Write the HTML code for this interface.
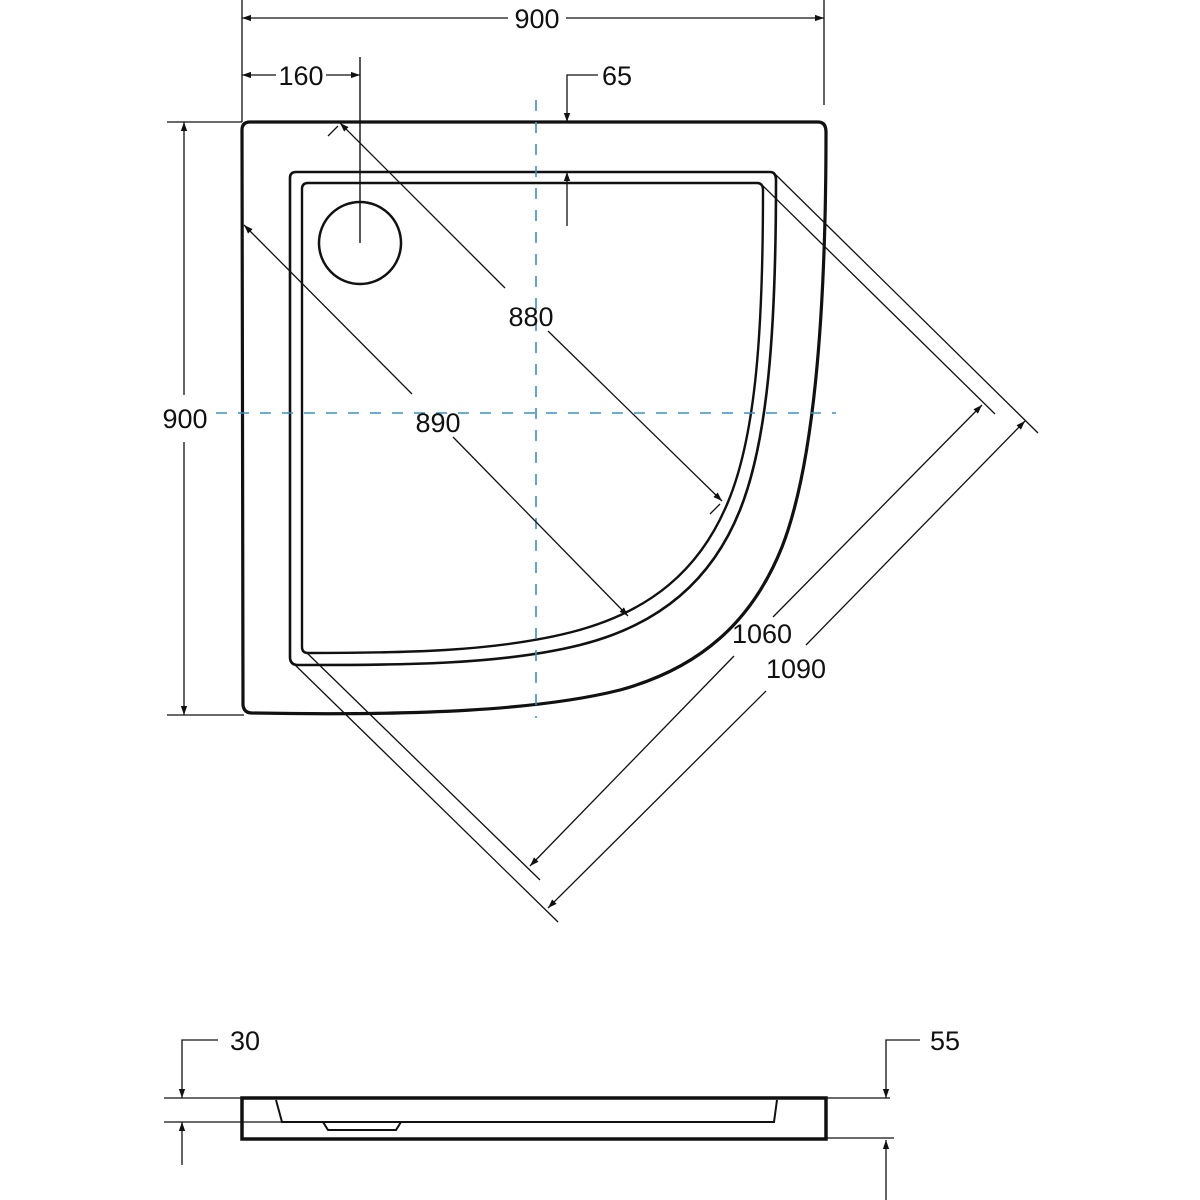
<!DOCTYPE html>
<html><head><meta charset="utf-8"><style>
html,body{margin:0;padding:0;background:#fff}
svg{display:block}
text{font-family:"Liberation Sans",Arial,sans-serif;font-size:27px;fill:#111}
</style></head><body>
<svg width="1200" height="1200" viewBox="0 0 1200 1200" xmlns="http://www.w3.org/2000/svg">
<defs>
<marker id="a" viewBox="0 0 10 10" refX="10" refY="5" markerWidth="9" markerHeight="9" orient="auto-start-reverse" markerUnits="userSpaceOnUse"><path d="M0,1.5 L10,5 L0,8.5 Z" fill="#111"/></marker>
</defs>
<g fill="none" stroke="#111">
<path d="M242,130 Q242,122 250,122 L818,122 Q826,122 826,132 C826,330 812,470 782,547 C752,622 700,668 620,690 C540,710 420,716 252,713 Q244,713 243,705 Z" stroke-width="3.2"/>
<path d="M290,178 Q290,172 296,172 L770,172 Q776,172 776,180 C776,330 768,440 740,510 C712,580 660,625 580,645 C500,665 400,665 298,665 Q290,665 290,657 Z" stroke-width="2.6"/>
<path d="M302,189 Q302,183 308,183 L757,183 Q763,183 763,190 C763,330 756,435 728,502 C700,570 650,612 572,632 C494,652 400,653 308,653 Q302,653 302,647 Z" stroke-width="2.4"/>
<circle cx="360" cy="243" r="41" stroke-width="2.5"/>
<line x1="360" y1="57" x2="360" y2="243" stroke-width="1.4"/>
</g>
<g stroke="#3a90c4" stroke-width="1.6" stroke-dasharray="11,11">
<line x1="536" y1="100" x2="536" y2="718"/>
<line x1="216" y1="413" x2="836" y2="413"/>
</g>
<g stroke="#111" stroke-width="1.3" fill="none">
<line x1="242" y1="0" x2="242" y2="122"/>
<line x1="824" y1="0" x2="824" y2="105"/>
<line x1="242" y1="18" x2="508" y2="18" marker-start="url(#a)"/>
<line x1="566" y1="18" x2="824" y2="18" marker-end="url(#a)"/>
<line x1="242" y1="75" x2="276" y2="75" marker-start="url(#a)"/>
<line x1="326" y1="75" x2="360" y2="75" marker-end="url(#a)"/>
<polyline points="598,75 567,75 567,122" marker-end="url(#a)"/>
<line x1="567" y1="226" x2="567" y2="172" marker-end="url(#a)"/>
<line x1="167" y1="122" x2="242" y2="122"/>
<line x1="167" y1="715" x2="244" y2="715"/>
<line x1="184" y1="395" x2="184" y2="122" marker-end="url(#a)"/>
<line x1="184" y1="442" x2="184" y2="715" marker-end="url(#a)"/>
<line x1="505" y1="288" x2="340" y2="123" marker-end="url(#a)"/>
<line x1="548" y1="331" x2="722" y2="501" marker-end="url(#a)"/>
<line x1="328" y1="136" x2="338" y2="126"/>
<line x1="710" y1="514" x2="720" y2="504"/>
<line x1="412" y1="394" x2="244" y2="225" marker-end="url(#a)"/>
<line x1="453" y1="437" x2="628" y2="616" marker-end="url(#a)"/>
<line x1="776" y1="175" x2="1038" y2="433"/>
<line x1="762" y1="185" x2="995" y2="414"/>
<line x1="290" y1="660" x2="558" y2="922"/>
<line x1="306" y1="652" x2="540" y2="880"/>
<line x1="734" y1="656" x2="530" y2="866" marker-end="url(#a)"/>
<line x1="773" y1="617" x2="982" y2="405" marker-end="url(#a)"/>
<line x1="766" y1="691" x2="548" y2="908" marker-end="url(#a)"/>
<line x1="806" y1="645" x2="1025" y2="421" marker-end="url(#a)"/>
</g>
<g fill="none" stroke="#111">
<rect x="242" y="1098" width="584" height="41" stroke-width="3.5"/>
<polyline points="276,1100 282,1122 774,1122 777,1100" stroke-width="2"/>
<polyline points="323,1122 328,1130 396,1130 401,1122" stroke-width="2"/>
</g>
<g stroke="#111" stroke-width="1.3" fill="none">
<line x1="164" y1="1098" x2="242" y2="1098"/>
<line x1="164" y1="1122" x2="282" y2="1122"/>
<polyline points="218,1040 182,1040 182,1098" marker-end="url(#a)"/>
<line x1="182" y1="1165" x2="182" y2="1122" marker-end="url(#a)"/>
<line x1="826" y1="1098" x2="890" y2="1098"/>
<line x1="826" y1="1138" x2="894" y2="1138"/>
<polyline points="920,1040 886,1040 886,1098" marker-end="url(#a)"/>
<line x1="886" y1="1200" x2="886" y2="1140" marker-end="url(#a)"/>
</g>
<g text-anchor="middle">
<text x="537" y="28">900</text>
<text x="301" y="85">160</text>
<text x="617" y="85">65</text>
<text x="185" y="428">900</text>
<text x="531" y="326">880</text>
<text x="438" y="432">890</text>
<text x="762" y="643">1060</text>
<text x="796" y="678">1090</text>
<text x="245" y="1050">30</text>
<text x="945" y="1050">55</text>
</g>
</svg>
</body></html>
